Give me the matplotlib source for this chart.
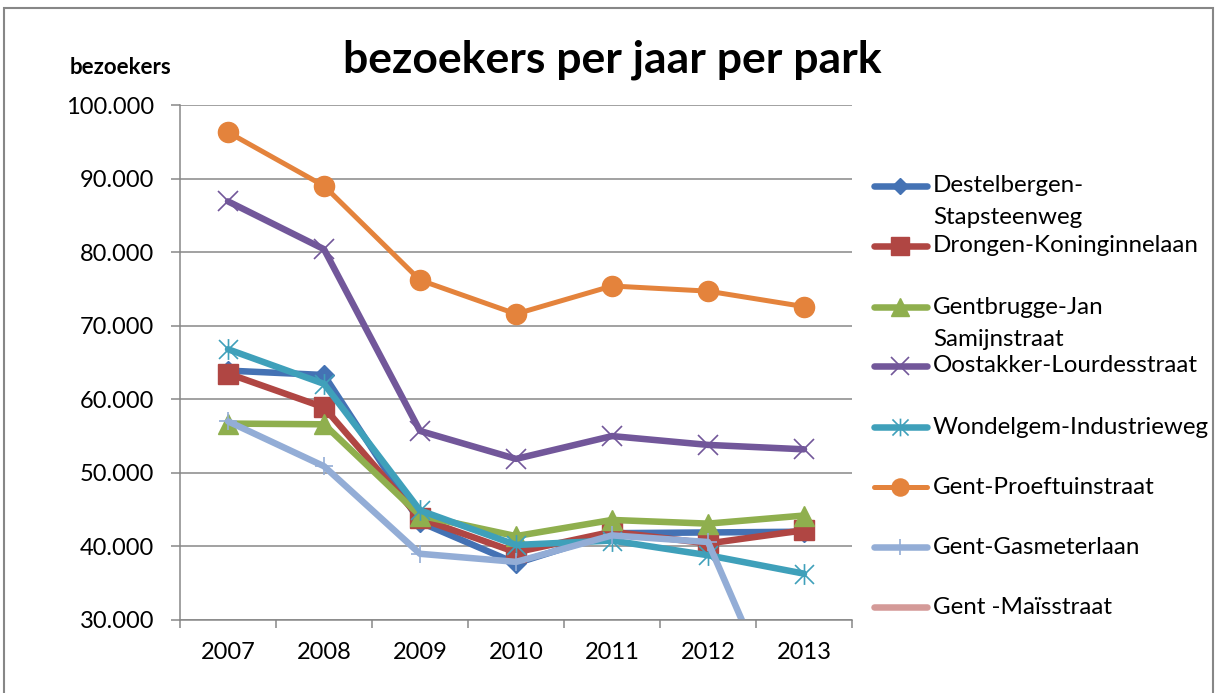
import numpy as np
import matplotlib
matplotlib.use("Agg")
import matplotlib.pyplot as plt
from matplotlib.lines import Line2D
from matplotlib.path import Path
from matplotlib.patches import Rectangle

plt.rcParams['font.family'] = ['Lato', 'DejaVu Sans']

years = ['2007', '2008', '2009', '2010', '2011', '2012', '2013']

destelbergen = [63900, 63300, 43300, 37700, 41800, 41900, 42000]
drongen = [63500, 58900, 43800, 39200, 42000, 40400, 42200]
gentbrugge = [56700, 56600, 44200, 41400, 43600, 43100, 44200]
oostakker = [86900, 80400, 55700, 51900, 55000, 53800, 53200]
wondelgem = [66800, 62100, 44900, 40200, 40800, 38800, 36300]
proeftuin = [96300, 89000, 76200, 71600, 75400, 74700, 72600]
gasmeter = [57000, 50900, 39000, 37900, 41500, 40600, 10500]
maisstraat = [np.nan] * 7

labels = ['Destelbergen-\nStapsteenweg', 'Drongen-Koninginnelaan',
          'Gentbrugge-Jan\nSamijnstraat', 'Oostakker-Lourdesstraat',
          'Wondelgem-Industrieweg', 'Gent-Proeftuinstraat',
          'Gent-Gasmeterlaan', 'Gent -Maïsstraat']

yticks = [30000, 40000, 50000, 60000, 70000, 80000, 90000, 100000]
ytick_labels = ['30.000', '40.000', '50.000', '60.000', '70.000', '80.000', '90.000', '100.000']

# asterisk star marker (x plus vertical bar)
star_path = Path([(-0.5, -0.5), (0.5, 0.5), (-0.5, 0.5), (0.5, -0.5), (0, -0.55), (0, 0.55)],
                 [Path.MOVETO, Path.LINETO, Path.MOVETO, Path.LINETO, Path.MOVETO, Path.LINETO])

series = [
    (destelbergen, '#4472B4', 'D', 10, 4.7, None),
    (drongen, '#B04643', 's', 14.5, 4.7, None),
    (gentbrugge, '#8FAF4E', '^', 14.5, 4.7, None),
    (oostakker, '#72579A', 'x', 14.5, 4.7, 1.2),
    (wondelgem, '#3FA0BA', star_path, 15, 4.7, 1.2),
    (proeftuin, '#E4833C', 'o', 14.5, 3.6, None),
    (gasmeter, '#93ADD6', '+', 13, 4.7, 1.2),
    (maisstraat, '#D49A98', None, 0, 4.7, None),
]

W, H = 1217, 693
fig = plt.figure(figsize=(W / 100, H / 100), dpi=100)
ax = fig.add_axes([180 / W, 1 - 620 / H, (852 - 180) / W, (620 - 105) / H])

x = np.arange(len(years))
for vals, col, mk, ms, lw, mew in series:
    kw = dict(color=col, lw=lw, solid_joinstyle='round', solid_capstyle='round')
    if mk is not None:
        kw.update(marker=mk, markersize=ms, markerfacecolor=col, markeredgecolor=col)
        if mew is not None:
            kw.update(markeredgewidth=mew)
    ax.plot(x, vals, **kw)

ax.set_ylim(30000, 100000)
ax.set_xlim(-0.5, len(years) - 0.5)
ax.set_yticks(yticks)
ax.set_yticklabels(ytick_labels)
ax.yaxis.grid(True, color='#878787', lw=1.1)
ax.set_axisbelow(True)
ax.set_xticks(np.arange(len(years) + 1) - 0.5)
ax.set_xticklabels([])
ax.set_xticks(x, minor=True)
ax.set_xticklabels(years, minor=True)
ax.tick_params(axis='x', which='major', direction='out', length=6, width=1.1, color='#878787')
ax.tick_params(axis='x', which='minor', length=0, pad=16, labelsize=17)
ax.tick_params(axis='y', direction='out', length=6.5, width=1.1, color='#878787', pad=12, labelsize=17)
for s in ['top', 'right']:
    ax.spines[s].set_visible(False)
for s in ['left', 'bottom']:
    ax.spines[s].set_color('#878787')
    ax.spines[s].set_linewidth(1.1)

fig.text(612 / W, 1 - 60 / H, 'bezoekers per jaar per park', ha='center', va='center',
         fontsize=32, fontweight='bold')
fig.text(70 / W, 1 - 67 / H, 'bezoekers', ha='left', va='center', fontsize=16, fontweight='bold')

# legend
row_y = [186, 246, 307, 366, 427, 487, 547, 607]
for (vals, col, mk, ms, lw, mew), lab, ry in zip(series, labels, row_y):
    fy = 1 - ry / H
    kw = dict(color=col, lw=lw, solid_capstyle='round')
    if mk is not None:
        kw.update(marker=mk, markersize=ms * 0.85, markerfacecolor=col, markeredgecolor=col,
                  markevery=[1])
        if mew is not None:
            kw.update(markeredgewidth=mew)
    ln = Line2D([874 / W, 900 / W, 927 / W], [fy, fy, fy], transform=fig.transFigure, **kw)
    fig.add_artist(ln)
    for k, part in enumerate(lab.split('\n')):
        fig.text(933 / W, 1 - (ry + 32 * k) / H, part, ha='left', va='center', fontsize=17.4)

fig.add_artist(Rectangle((4 / W, -0.05), (1213 - 4) / W, 1.05 - 8 / H + 0.0, transform=fig.transFigure,
                         fill=False, edgecolor='#878787', lw=1.5))

fig.savefig('out.png', dpi=100)
